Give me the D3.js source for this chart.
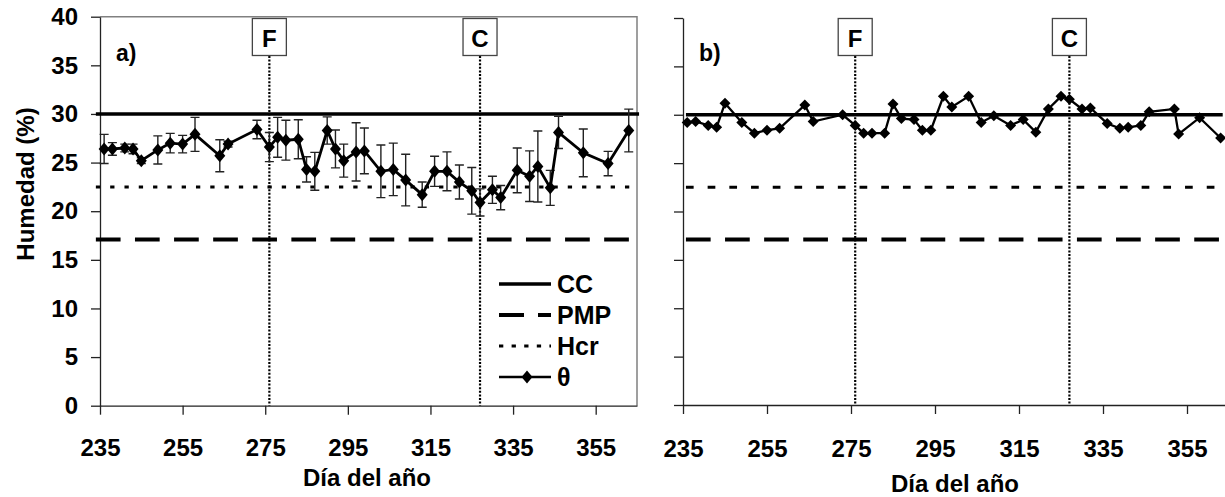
<!DOCTYPE html>
<html><head><meta charset="utf-8">
<script src="https://cdn.jsdelivr.net/npm/d3@7"></script>
<style>body{margin:0;background:#fff}svg{display:block}text{font-family:"Liberation Sans",Arial,sans-serif;font-weight:bold;fill:#000}</style>
</head><body>
<svg id="c" width="1225" height="497"></svg>
<script>
// ---- data ----
const xTicks = [235,255,275,295,315,335,355];
const yTicks = [0,5,10,15,20,25,30,35,40];
const daysA = [236,238,241,243,245,249,252,255,258,264,266,273,276,278,280,283,285,287,290,292,294,297,299,303,306,309,313,316,319,322,325,327,330,332,336,339,341,344,346,352,358,363];
const thetaA = [26.4,26.4,26.5,26.4,25.2,26.3,27.0,26.9,27.9,25.7,26.9,28.4,26.6,27.6,27.3,27.4,24.3,24.1,28.3,26.4,25.2,26.1,26.2,24.1,24.3,23.2,21.7,24.1,24.1,23.0,22.1,20.9,22.2,21.4,24.2,23.6,24.6,22.4,28.1,26.0,24.9,28.3];
const sdA = [1.5,0.65,0.4,0.5,0.3,1.45,1.0,0.9,1.75,1.65,0.3,0.95,1.5,2.05,2.05,2.0,1.3,1.95,1.4,1.95,1.7,3.0,2.35,2.7,2.7,2.65,1.3,1.55,2.0,1.75,2.4,1.4,1.4,1.25,2.3,2.6,3.65,1.8,1.65,2.45,1.25,2.2];
const daysB = [236,238,241,243,245,249,252,255,258,264,266,273,276,278,280,283,285,287,290,292,294,297,299,303,306,309,313,316,319,322,325,327,330,332,336,339,341,344,346,352,353,358,363];
const thetaB = [29.2,29.3,28.9,28.7,31.2,29.2,28.1,28.4,28.6,31.0,29.3,30.0,28.9,28.1,28.1,28.1,31.1,29.6,29.5,28.4,28.4,31.9,30.8,31.9,29.2,29.9,28.9,29.5,28.2,30.6,31.9,31.6,30.6,30.7,29.1,28.6,28.7,28.9,30.3,30.6,28.0,29.7,27.6];
const CC = 30, PMP = 17.1, HCR = 22.5;
const eventDays = [276, 327];
const eventLabels = ["F", "C"];
const panelLabels = ["a)", "b)"];
const legendLabels = ["CC", "PMP", "Hcr", "θ"];

const svg = d3.select("#c");
const diamond = (w,h) => `M0,${-h}L${w},0L0,${h}L${-w},0Z`;

function panel(cfg){
  const {x, y, days, theta, sd, label, showY, lineExt, hcrDash, tickLabelY, titleY, frame, mw, mh, lw} = cfg;
  const g = svg.append("g");
  const [x0,x1] = x.range(), [yb,yt] = y.range();
  if (frame){
    g.append("path").attr("d",`M${x0},${yt}H${x1}V${yb}`).attr("fill","none").attr("stroke","#808080").attr("stroke-width",1.5);
  }
  const ax = g.append("g").attr("transform",`translate(0,${yb})`)
    .call(d3.axisBottom(x).tickValues(xTicks).tickSize(9).tickSizeOuter(0).tickPadding(tickLabelY));
  const ay = g.append("g").attr("transform",`translate(${x0},0)`)
    .call(d3.axisLeft(y).tickValues(yTicks).tickSize(9).tickSizeOuter(0).tickPadding(13).tickFormat(showY? d3.format("d") : ""));
  [ax,ay].forEach(a=>{
    a.selectAll("path,line").attr("stroke","#222").attr("stroke-width",1.3);
    a.selectAll("text").style("font-size","24px").style("font-family","'Liberation Sans',Arial").style("font-weight","bold").attr("fill","#000");
  });
  const lx0 = x(lineExt[0]), lx1 = x(lineExt[1]);
  g.append("line").attr("x1",lx0).attr("x2",lx1).attr("y1",y(CC)).attr("y2",y(CC)).attr("stroke","#000").attr("stroke-width",3.5);
  g.append("line").attr("x1",lx0).attr("x2",lx1).attr("y1",y(PMP)).attr("y2",y(PMP)).attr("stroke","#000").attr("stroke-width",4).attr("stroke-dasharray","24.7,14.4");
  g.append("line").attr("x1",lx0).attr("x2",lx1).attr("y1",y(HCR)).attr("y2",y(HCR)).attr("stroke","#000").attr("stroke-width",3).attr("stroke-dasharray",hcrDash);
  eventDays.forEach((d,i)=>{
    const ex = x(d);
    g.append("line").attr("x1",ex).attr("x2",ex).attr("y1",56).attr("y2",yb).attr("stroke","#000").attr("stroke-width",2.2).attr("stroke-dasharray","2,1.6");
    g.append("rect").attr("x",ex-17).attr("y",18.5).attr("width",34).attr("height",37).attr("fill","#fff").attr("stroke","#444").attr("stroke-width",1.3);
    g.append("text").attr("x",ex).attr("y",46.5).attr("text-anchor","middle").style("font-size","24px").text(eventLabels[i]);
  });
  if (sd){
    days.forEach((d,i)=>{
      const ex = x(d), t = y(theta[i]+sd[i]), b = y(theta[i]-sd[i]);
      g.append("path").attr("d",`M${ex},${t}V${b}M${ex-4.5},${t}H${ex+4.5}M${ex-4.5},${b}H${ex+4.5}`)
        .attr("fill","none").attr("stroke","#222").attr("stroke-width",1.4);
    });
  }
  g.append("path").datum(days.map((d,i)=>[d,theta[i]]))
    .attr("d",d3.line().x(p=>x(p[0])).y(p=>y(p[1])))
    .attr("fill","none").attr("stroke","#000").attr("stroke-width",lw);
  g.selectAll(".m").data(days).enter().append("path")
    .attr("transform",(d,i)=>`translate(${x(d)},${y(theta[i])})`).attr("d",diamond(mw,mh)).attr("fill","#000");
  g.append("text").attr("x",x0+16).attr("y",61).style("font-size","23px").text(label);
  g.append("text").attr("x",cfg.titleX).attr("y",titleY).attr("text-anchor","middle").style("font-size","24px").text("Día del año");
  return g;
}

const xA = d3.scaleLinear([235,365],[100,637]);
const yA = d3.scaleLinear([0,40],[405.7,16.7]);
const xB = d3.scaleLinear([235,365],[683,1229]);
const yB = d3.scaleLinear([0,40],[405,18]);

panel({x:xA,y:yA,days:daysA,theta:thetaA,sd:sdA,label:panelLabels[0],showY:true,lineExt:[234,365.5],hcrDash:"4.3,10",tickLabelY:24,titleY:486,titleX:367,frame:true,mw:5.5,mh:6.5,lw:2.8});
panel({x:xB,y:yB,days:daysB,theta:thetaB,sd:null,label:panelLabels[1],showY:false,lineExt:[235.7,363.5],hcrDash:"7.7,14",tickLabelY:26,titleY:492,titleX:955,frame:false,mw:5.5,mh:5.5,lw:2.3});

svg.append("text").attr("transform","translate(34,184) rotate(-90)").attr("text-anchor","middle").style("font-size","24px").text("Humedad (%)");

const lg = svg.append("g");
const rows = [284,315,346,377];
const lx0 = 499, lx1 = 551;
lg.append("line").attr("x1",lx0).attr("x2",lx1).attr("y1",rows[0]).attr("y2",rows[0]).attr("stroke","#000").attr("stroke-width",3.5);
lg.append("line").attr("x1",lx0).attr("x2",lx1).attr("y1",rows[1]).attr("y2",rows[1]).attr("stroke","#000").attr("stroke-width",4).attr("stroke-dasharray","25,14");
lg.append("line").attr("x1",lx0).attr("x2",lx1).attr("y1",rows[2]).attr("y2",rows[2]).attr("stroke","#000").attr("stroke-width",3).attr("stroke-dasharray","4.3,8.3");
lg.append("line").attr("x1",lx0).attr("x2",lx1).attr("y1",rows[3]).attr("y2",rows[3]).attr("stroke","#000").attr("stroke-width",2.7);
lg.append("path").attr("transform",`translate(527,${rows[3]})`).attr("d",diamond(5.5,6.5)).attr("fill","#000");
legendLabels.forEach((t,i)=>{
  lg.append("text").attr("x",557).attr("y",rows[i]+9).style("font-size","25px").text(t);
});
</script>
</body></html>
